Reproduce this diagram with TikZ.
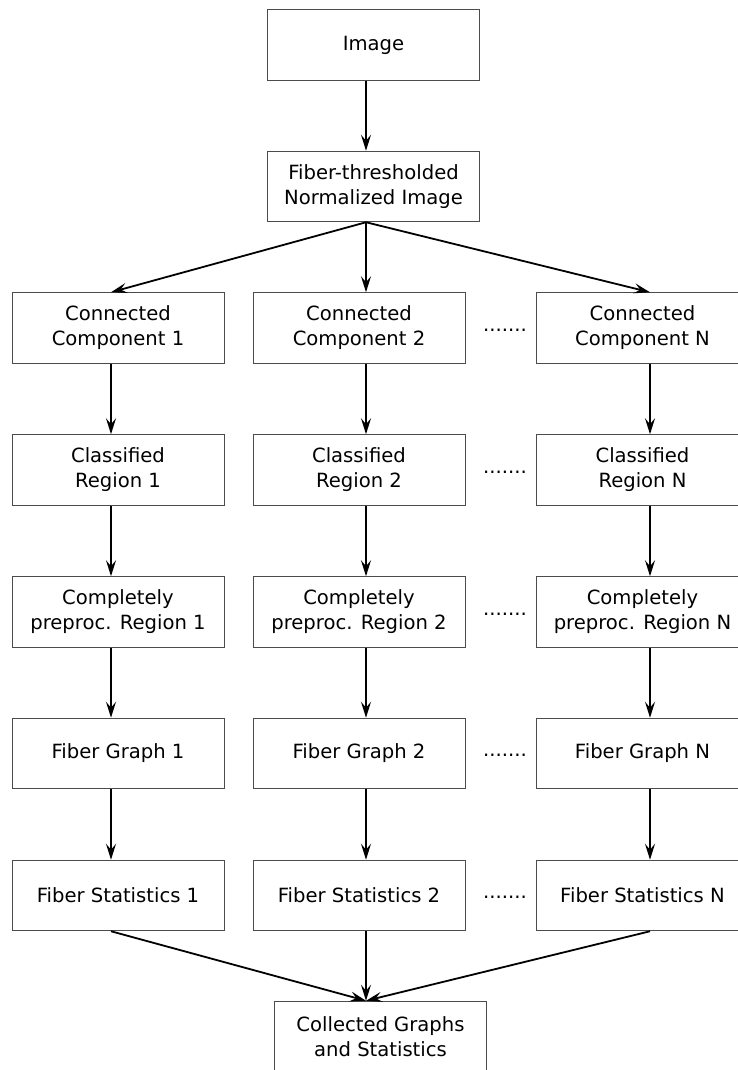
\documentclass[tikz,border=0pt]{standalone}
\usepackage{fontspec}
\setmainfont{DejaVu Sans}
\usetikzlibrary{arrows.meta}
\tikzset{
    blockbox/.style={draw=black!70, line width=0.5pt, minimum width=106pt, minimum height=35.25pt, inner sep=0pt, align=center, font=\fontsize{9.8}{12.5}\selectfont},
    flowarrow/.style={line width=0.9pt, -{Stealth[length=8pt,width=5pt,inset=3pt]}},
    gapdots/.style={inner sep=0pt, font=\fontsize{9.8}{12.5}\selectfont}
}
\begin{document}
\begin{tikzpicture}[x=0.5pt,y=0.5pt,yscale=-1,xscale=1]
        \useasboundingbox (0,0) rectangle (738,1070);
        \clip (0,0) rectangle (738,1070);
        % top
        \draw (373.5,45) node [blockbox] (img) {Image};
        \draw (373.5,186.5) node [blockbox] (thr) {Fiber-thresholded\\Normalized Image};
        % components
        \draw (118,328) node [blockbox] (cc1) {Connected\\Component 1};
        \draw (359,328) node [blockbox] (cc2) {Connected\\Component 2};
        \draw (642.5,328) node [blockbox] (ccn) {Connected\\Component N};
        \draw (505,330) node [gapdots] (dots1) {.......};
        % classified
        \draw (118,470) node [blockbox] (cr1) {Classified\\Region 1};
        \draw (359,470) node [blockbox] (cr2) {Classified\\Region 2};
        \draw (642.5,470) node [blockbox] (crn) {Classified\\Region N};
        \draw (505,472) node [gapdots] (dots2) {.......};
        % preprocessed
        \draw (118,612) node [blockbox] (pr1) {Completely\\preproc. Region 1};
        \draw (359,612) node [blockbox] (pr2) {Completely\\preproc. Region 2};
        \draw (642.5,612) node [blockbox] (prn) {Completely\\preproc. Region N};
        \draw (505,614) node [gapdots] (dots3) {.......};
        % graphs
        \draw (118,753.5) node [blockbox] (fg1) {Fiber Graph 1};
        \draw (359,753.5) node [blockbox] (fg2) {Fiber Graph 2};
        \draw (642.5,753.5) node [blockbox] (fgn) {Fiber Graph N};
        \draw (505,755.5) node [gapdots] (dots4) {.......};
        % statistics
        \draw (118,895.5) node [blockbox] (fs1) {Fiber Statistics 1};
        \draw (359,895.5) node [blockbox] (fs2) {Fiber Statistics 2};
        \draw (642.5,895.5) node [blockbox] (fsn) {Fiber Statistics N};
        \draw (505,897.5) node [gapdots] (dots5) {.......};
        % result
        \draw (380.5,1036.5) node [blockbox] (coll) {Collected Graphs\\and Statistics};

        % arrows
        \draw [flowarrow] ([xshift=-3.75pt]img.south) -- ([xshift=-3.75pt]thr.north);
        \draw [flowarrow] ([xshift=-3.75pt]thr.south) -- ([xshift=-3.5pt]cc1.north);
        \draw [flowarrow] ([xshift=-3.75pt]thr.south) -- ([xshift=3.5pt]cc2.north);
        \draw [flowarrow] ([xshift=-3.75pt]thr.south) -- ([xshift=3.75pt]ccn.north);

        \draw [flowarrow] ([xshift=-3.5pt]cc1.south) -- ([xshift=-3.5pt]cr1.north);
        \draw [flowarrow] ([xshift=3.5pt]cc2.south) -- ([xshift=3.5pt]cr2.north);
        \draw [flowarrow] ([xshift=3.75pt]ccn.south) -- ([xshift=3.75pt]crn.north);

        \draw [flowarrow] ([xshift=-3.5pt]cr1.south) -- ([xshift=-3.5pt]pr1.north);
        \draw [flowarrow] ([xshift=3.5pt]cr2.south) -- ([xshift=3.5pt]pr2.north);
        \draw [flowarrow] ([xshift=3.75pt]crn.south) -- ([xshift=3.75pt]prn.north);

        \draw [flowarrow] ([xshift=-3.5pt]pr1.south) -- ([xshift=-3.5pt]fg1.north);
        \draw [flowarrow] ([xshift=3.5pt]pr2.south) -- ([xshift=3.5pt]fg2.north);
        \draw [flowarrow] ([xshift=3.75pt]prn.south) -- ([xshift=3.75pt]fgn.north);

        \draw [flowarrow] ([xshift=-3.5pt]fg1.south) -- ([xshift=-3.5pt]fs1.north);
        \draw [flowarrow] ([xshift=3.5pt]fg2.south) -- ([xshift=3.5pt]fs2.north);
        \draw [flowarrow] ([xshift=3.75pt]fgn.south) -- ([xshift=3.75pt]fsn.north);

        \draw [flowarrow] ([xshift=-3.5pt]fs1.south) -- ([xshift=-7.25pt]coll.north);
        \draw [flowarrow] ([xshift=3.5pt]fs2.south) -- ([xshift=-7.25pt]coll.north);
        \draw [flowarrow] ([xshift=3.75pt]fsn.south) -- ([xshift=-7.25pt]coll.north);
\end{tikzpicture}
\end{document}
